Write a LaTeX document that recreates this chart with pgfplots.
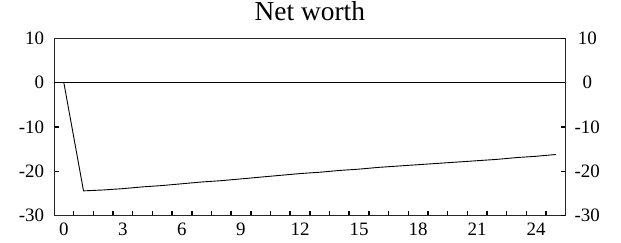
\documentclass[border=0pt]{standalone}
\usepackage{fontspec}
\setmainfont{Liberation Serif}
\usepackage{pgfplots}
\pgfplotsset{compat=1.18}
\begin{document}
\begin{tikzpicture}
\pgfplotsset{
  common/.style={
    scale only axis, width=511.7bp, height=177.4bp,
    xmin=-0.5, xmax=25.5, ymin=-30, ymax=10,
    ytick={-30,-20,...,10},
    tick align=inside, major tick length=4.5bp, minor tick length=4.5bp,
    /pgf/number format/assume math mode=true,
    tick label style={font=\fontsize{19}{21}\selectfont, inner sep=0pt},
    axis line style={line width=1bp, black!85},
    every tick/.style={line width=1.5bp, black},
  }
}
\begin{axis}[common,
  xtick={0,3,...,24},
  minor xtick={0.5,1.5,...,24.5},
  major x tick style={draw=none},
  xtick pos=bottom,
  xticklabel style={anchor=north, yshift=-7.2bp},
  ytick pos=both,
  yticklabel style={anchor=east, xshift=-9.7bp},
  title={Net worth},
  title style={at={(0.5,1)}, anchor=base, yshift=11.6bp, font=\fontsize{27.5}{30}\selectfont, inner sep=0pt},
]
\addplot[black, line width=0.9bp] coordinates {(-0.5,0) (25.5,0)};
\addplot[black, line width=0.9bp] coordinates {
(0,0) (1,-24.4) (2,-24.2) (3,-23.9) (4,-23.5) (5,-23.2) (6,-22.8) (7,-22.4)
(8,-22.1) (9,-21.7) (10,-21.3) (11,-20.9) (12,-20.5) (13,-20.2) (14,-19.8)
(15,-19.5) (16,-19.1) (17,-18.8) (18,-18.5) (19,-18.2) (20,-17.9) (21,-17.6)
(22,-17.3) (23,-16.9) (24,-16.6) (25,-16.2)
};
\end{axis}
\begin{axis}[common,
  axis x line=none, axis y line*=right,
  ytick pos=right, yticklabel pos=right,
  yticklabel style={anchor=center, xshift=21.6bp},
]
\addplot[draw=none] coordinates {(0,0)};
\end{axis}
\pgfresetboundingbox
\path (current axis.south west) +(-54bp,-27.3bp) (current axis.north east) +(55.3bp,38.3bp);
\end{tikzpicture}
\end{document}
